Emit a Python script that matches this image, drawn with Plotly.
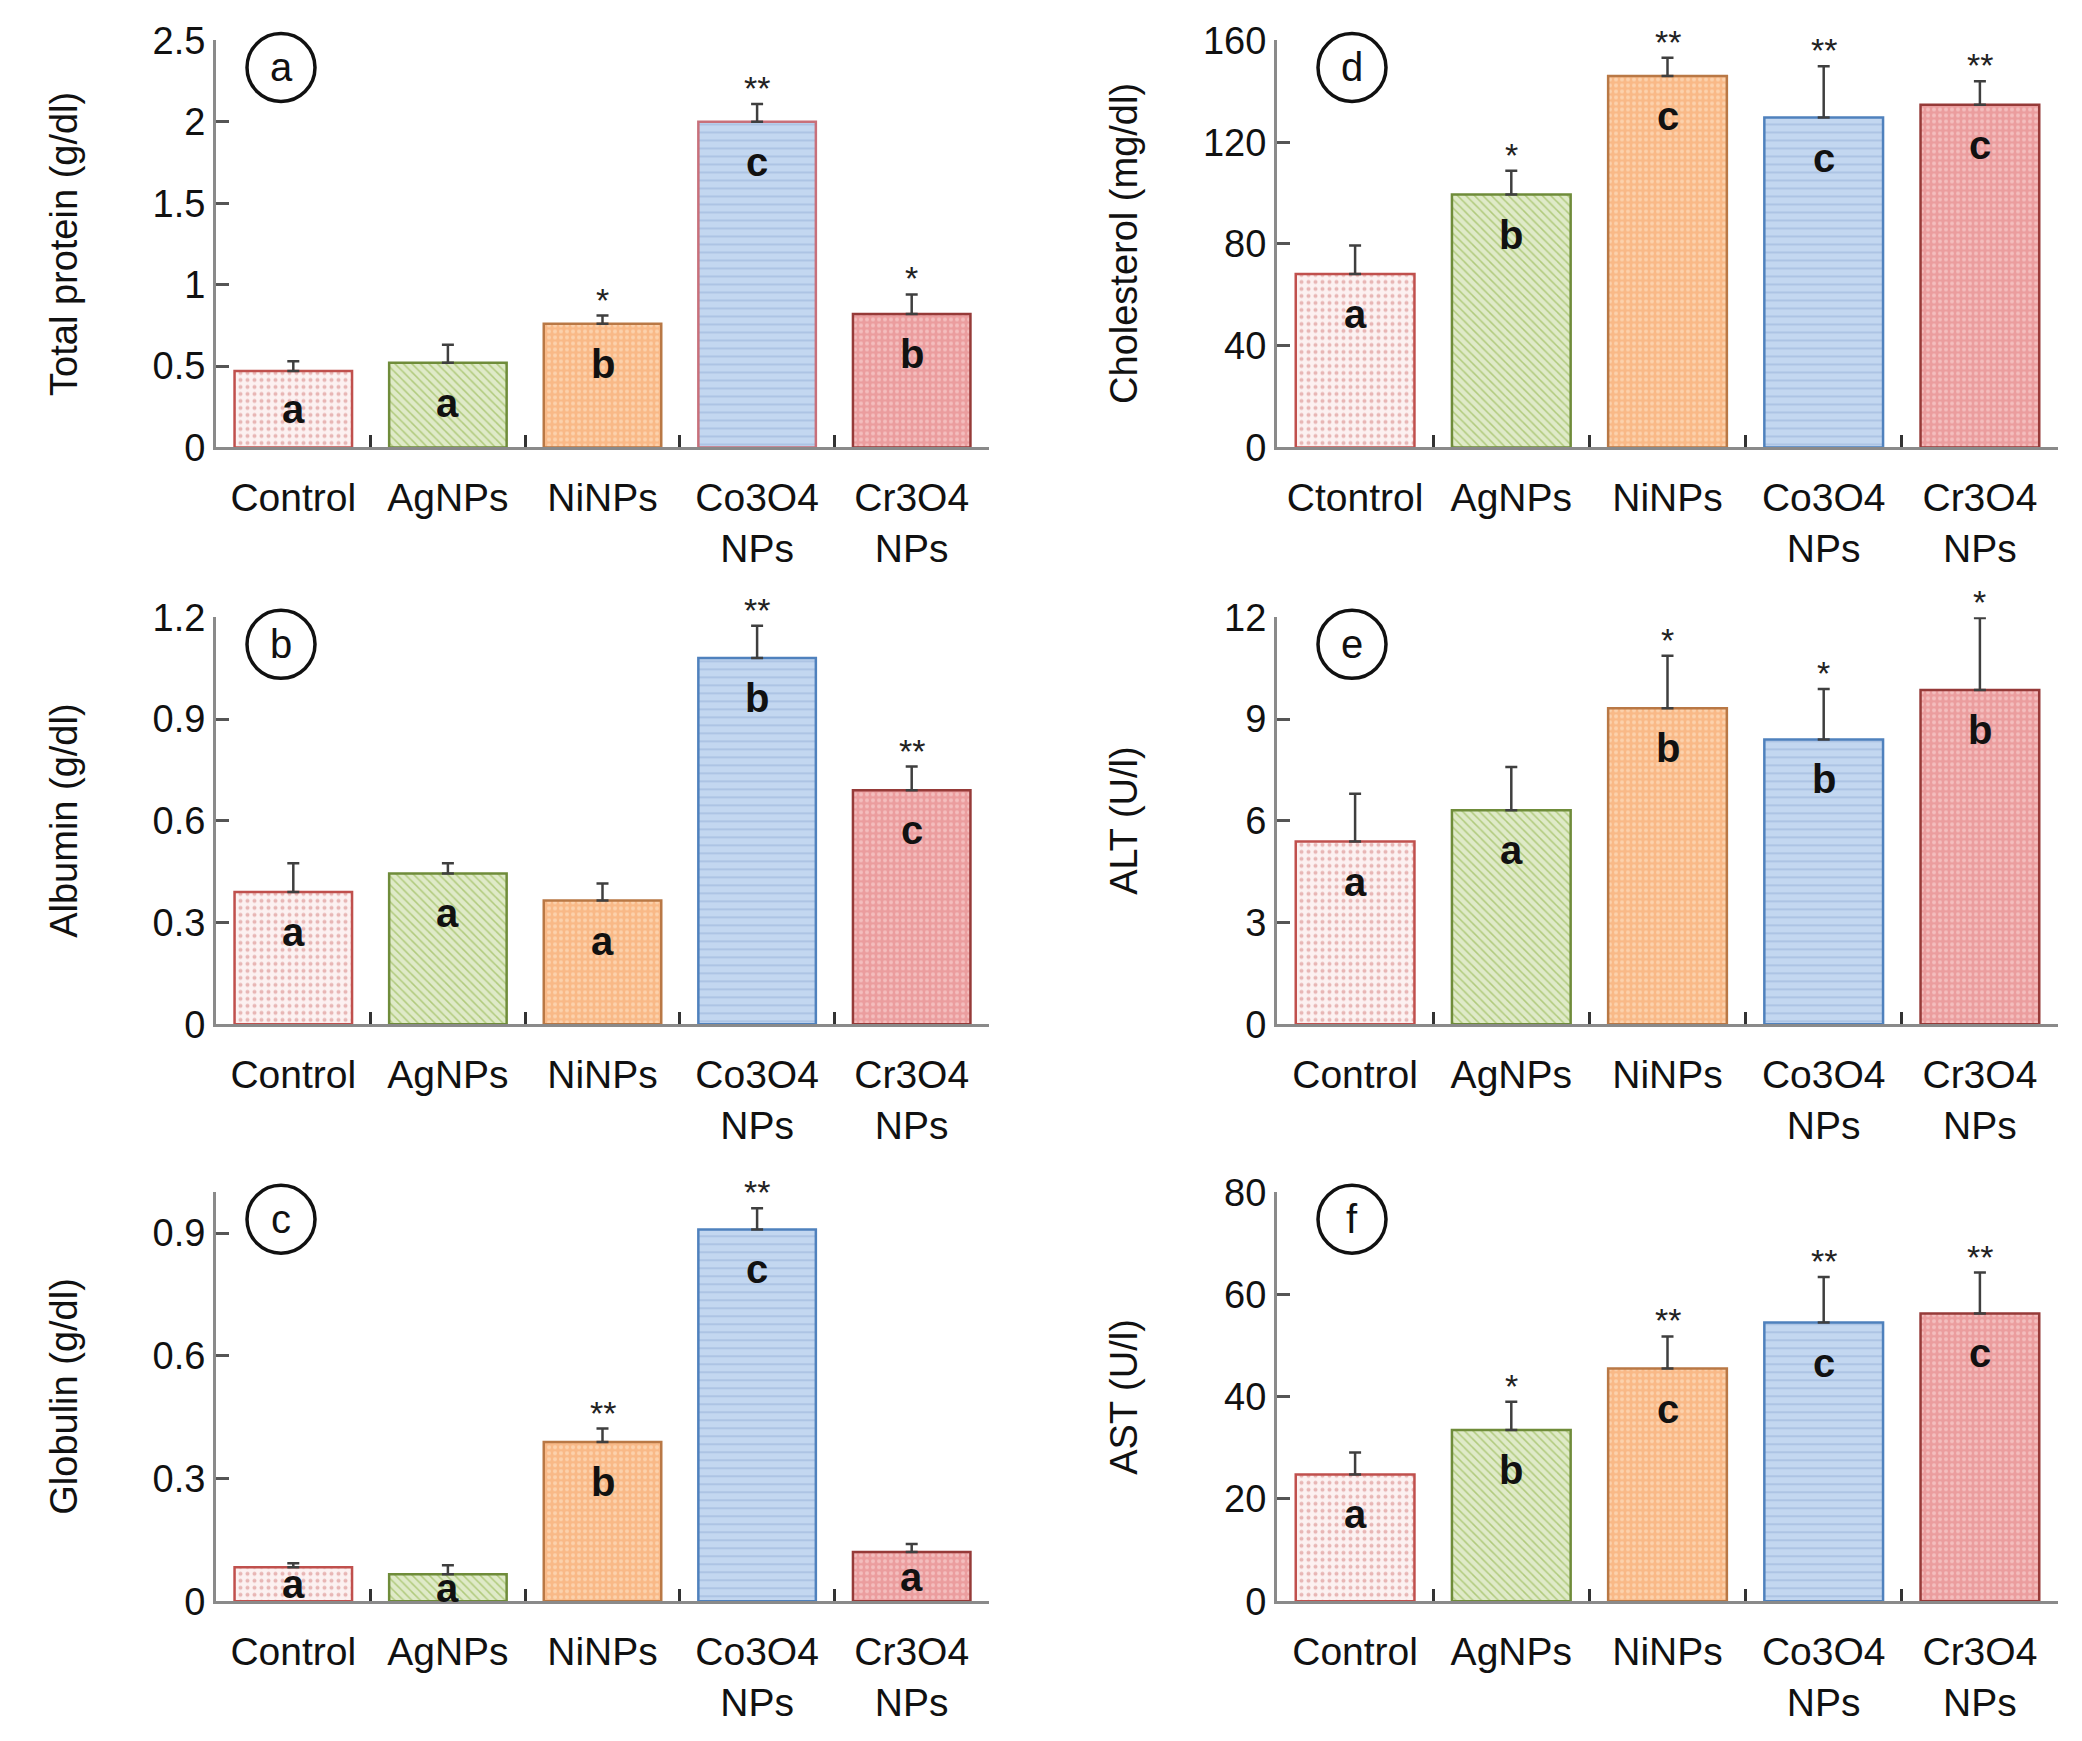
import plotly.graph_objects as go

# ---------------- data ----------------
groups = ["Control", "AgNPs", "NiNPs", "Co3O4<br>NPs", "Cr3O4<br>NPs"]
groups_d = ["Ctontrol", "AgNPs", "NiNPs", "Co3O4<br>NPs", "Cr3O4<br>NPs"]

tp_mean = [0.47, 0.52, 0.76, 2.00, 0.82]
tp_err = [0.06, 0.11, 0.05, 0.11, 0.12]
tp_letters = ["a", "a", "b", "c", "b"]
tp_stars = ["", "", "*", "**", "*"]

alb_mean = [0.39, 0.445, 0.365, 1.08, 0.69]
alb_err = [0.085, 0.03, 0.05, 0.095, 0.07]
alb_letters = ["a", "a", "a", "b", "c"]
alb_stars = ["", "", "", "**", "**"]

glob_mean = [0.083, 0.066, 0.389, 0.909, 0.12]
glob_err = [0.01, 0.022, 0.033, 0.052, 0.02]
glob_letters = ["a", "a", "b", "c", "a"]
glob_stars = ["", "", "**", "**", ""]

chol_mean = [68.2, 99.4, 146.0, 129.7, 134.7]
chol_err = [11.2, 9.4, 7.2, 20.2, 9.3]
chol_letters = ["a", "b", "c", "c", "c"]
chol_stars = ["", "*", "**", "**", "**"]

alt_mean = [5.39, 6.31, 9.32, 8.40, 9.86]
alt_err = [1.41, 1.28, 1.55, 1.49, 2.12]
alt_letters = ["a", "a", "b", "b", "b"]
alt_stars = ["", "", "*", "*", "*"]

ast_mean = [24.8, 33.5, 45.5, 54.5, 56.3]
ast_err = [4.3, 5.5, 6.3, 8.9, 8.0]
ast_letters = ["a", "b", "c", "c", "c"]
ast_stars = ["", "*", "**", "**", "**"]

panels = [
    ("a", groups, tp_mean, tp_err, tp_letters, tp_stars, "Total protein (g/dl)", [0, 2.5], [0, 0.5, 1, 1.5, 2, 2.5], 0, 0),
    ("d", groups_d, chol_mean, chol_err, chol_letters, chol_stars, "Cholesterol (mg/dl)", [0, 160], [0, 40, 80, 120, 160], 1, 0),
    ("b", groups, alb_mean, alb_err, alb_letters, alb_stars, "Albumin (g/dl)", [0, 1.2], [0, 0.3, 0.6, 0.9, 1.2], 0, 1),
    ("e", groups, alt_mean, alt_err, alt_letters, alt_stars, "ALT (U/l)", [0, 12], [0, 3, 6, 9, 12], 1, 1),
    ("c", groups, glob_mean, glob_err, glob_letters, glob_stars, "Globulin (g/dl)", [0, 1.0], [0, 0.3, 0.6, 0.9], 0, 2),
    ("f", groups, ast_mean, ast_err, ast_letters, ast_stars, "AST (U/l)", [0, 80], [0, 20, 40, 60, 80], 1, 2),
]

# ---------------- styles ----------------
OFF = 8
W, H = 2082 - 2 * OFF, 1741 - 2 * OFF
col_px = [(216, 989), (1277, 2058)]
row_px = [(40, 447), (617, 1024), (1192, 1601)]
title_x_px = [64, 1124]
circle_x_px = [281, 1352]
circle_dy = 27
circle_r = 34


def ycorr(y):
    # empirical vertical correction of the rendered page
    return (0.753 * y - 15.6) / 0.7348


def px(x):
    return (x - OFF) / W


def py(y):
    return 1 - (ycorr(y) - OFF) / H


bar_bg = ["#fcf1f1", "#dfeac8", "#f9b987", "#c3d7f0", "#eb9d9e"]
bar_fg = ["#e8b6b5", "#b0ca7c", "#fcd2ad", "#98b2da", "#f4bebe"]
bar_line = ["#c0504d", "#6f8c3a", "#b97845", "#4f81bd", "#963a38"]
bar_shape = [".", "\\", ".", "-", "."]
bar_size = [7, 6, 6, 8, 6]
bar_solid = [0.25, 0.25, 0.35, 0.13, 0.35]

axis_gray = "#8a8a8a"
FONT = "Liberation Sans, Arial, sans-serif"

fig = go.Figure()
layout = dict(
    width=W, height=H,
    margin=dict(l=0, r=0, t=0, b=0),
    paper_bgcolor="white", plot_bgcolor="white",
    showlegend=False, barmode="overlay",
    font=dict(family=FONT, size=38, color="#111111"),
)
annotations = []
shapes = []

for i, (key, cats, mean, err, letters, stars, ytitle, yr, tv, c, r) in enumerate(panels):
    n = i + 1
    xa = "x" if n == 1 else f"x{n}"
    ya = "y" if n == 1 else f"y{n}"
    for j, (cat, m, e) in enumerate(zip(cats, mean, err)):
        lc = bar_line[j]
        if key == "a" and j == 3:
            lc = "#c8707a"
        fig.add_trace(go.Bar(
            x=[cat], y=[m], xaxis=xa, yaxis=ya,
            marker=dict(
                color=bar_bg[j],
                line=dict(color=lc, width=2.5),
                pattern=dict(shape=bar_shape[j], fgcolor=bar_fg[j], bgcolor=bar_bg[j],
                             fgopacity=1, size=bar_size[j], solidity=bar_solid[j],
                             fillmode="overlay"),
            ),
            error_y=dict(type="data", symmetric=False, array=[e], arrayminus=[0],
                         color="#3f3f3f", thickness=2.5, width=6),
            width=0.76,
        ))
    x0, x1 = col_px[c]
    top, bot = row_px[r]
    layout[f"xaxis{'' if n == 1 else n}"] = dict(
        domain=[px(x0), px(x1)], anchor=ya, type="category",
        categoryorder="array", categoryarray=cats,
        range=[-0.5, 4.5], showline=True, linecolor=axis_gray, linewidth=3,
        ticks="inside", tickson="boundaries", ticklen=12, tickwidth=2.5, tickcolor="#333333",
        showgrid=False, zeroline=False,
        tickfont=dict(size=39, color="#111111"), ticklabelstandoff=14,
        fixedrange=True,
    )
    layout[f"yaxis{'' if n == 1 else n}"] = dict(
        domain=[py(bot), py(top)], anchor=xa,
        range=yr, tickvals=tv, showline=True, linecolor=axis_gray, linewidth=3,
        ticks="inside", ticklen=13, tickwidth=2.5, tickcolor="#555555",
        showgrid=False, zeroline=False,
        tickfont=dict(size=38, color="#111111"),
        fixedrange=True,
    )
    annotations.append(dict(
        text=ytitle, xref="paper", yref="paper",
        x=px(title_x_px[c]), y=py((top + bot) / 2),
        textangle=-90, showarrow=False, xanchor="center", yanchor="middle",
        font=dict(size=38, color="#111111"),
    ))
    cx, cy = circle_x_px[c], top + circle_dy
    shapes.append(dict(
        type="circle", xref="paper", yref="paper",
        x0=px(cx - circle_r), x1=px(cx + circle_r),
        y0=py(cy + circle_r), y1=py(cy - circle_r),
        line=dict(color="#111111", width=3.5), fillcolor="rgba(0,0,0,0)",
    ))
    annotations.append(dict(
        text=key, xref="paper", yref="paper", x=px(cx), y=py(cy),
        showarrow=False, xanchor="center", yanchor="middle",
        font=dict(size=40, color="#111111"),
    ))
    plot_h = bot - top
    for cat, m, e, let, st in zip(cats, mean, err, letters, stars):
        bar_px = m / yr[1] * plot_h
        shift = -min(40, 0.5 * bar_px)
        annotations.append(dict(
            text=f"<b>{let}</b>", xref=xa, yref=ya, x=cat, y=m, yshift=shift,
            showarrow=False, xanchor="center", yanchor="middle",
            font=dict(size=40, color="#111111"),
        ))
        if st:
            annotations.append(dict(
                text=st, xref=xa, yref=ya, x=cat, y=m + e, yshift=16,
                showarrow=False, xanchor="center", yanchor="middle",
                font=dict(size=34, color="#222222"),
            ))

layout["annotations"] = annotations
layout["shapes"] = shapes
fig.update_layout(**layout)
fig.write_html("out.html", config={"displayModeBar": False})
